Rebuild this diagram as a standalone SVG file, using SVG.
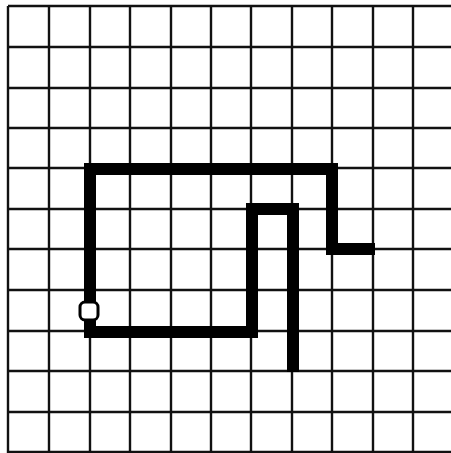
<svg xmlns="http://www.w3.org/2000/svg" width="451" height="453" viewBox="0 0 451 453">
<style>
.grid line{stroke:#111;stroke-width:2.4}
.path{fill:none;stroke:#000;stroke-width:12;stroke-linejoin:miter;stroke-linecap:square}
.start{fill:#fff;stroke:#000;stroke-width:3}
</style>
<rect width="451" height="453" fill="#fff"/>
<g id="grid" class="grid">
<line x1="8" y1="6" x2="8" y2="453"/>
<line x1="49" y1="6" x2="49" y2="453"/>
<line x1="90" y1="6" x2="90" y2="453"/>
<line x1="130" y1="6" x2="130" y2="453"/>
<line x1="171" y1="6" x2="171" y2="453"/>
<line x1="211" y1="6" x2="211" y2="453"/>
<line x1="251" y1="6" x2="251" y2="453"/>
<line x1="292" y1="6" x2="292" y2="453"/>
<line x1="332" y1="6" x2="332" y2="453"/>
<line x1="373" y1="6" x2="373" y2="453"/>
<line x1="413" y1="6" x2="413" y2="453"/>
<line x1="8" y1="6" x2="451" y2="6"/>
<line x1="8" y1="47" x2="451" y2="47"/>
<line x1="8" y1="88" x2="451" y2="88"/>
<line x1="8" y1="128" x2="451" y2="128"/>
<line x1="8" y1="168" x2="451" y2="168"/>
<line x1="8" y1="209" x2="451" y2="209"/>
<line x1="8" y1="249" x2="451" y2="249"/>
<line x1="8" y1="290" x2="451" y2="290"/>
<line x1="8" y1="331" x2="451" y2="331"/>
<line x1="8" y1="371" x2="451" y2="371"/>
<line x1="8" y1="412" x2="451" y2="412"/>
<line x1="8" y1="452" x2="451" y2="452"/>
</g>
<g id="connectors">
<path class="path" d="M90,311 L90,169 L332,169 L332,249 L369,249"/>
<path class="path" d="M90,311 L90,332 L252,332 L252,209 L293,209 L293,366" stroke-linecap="butt"/>
</g>
<g id="start">
<rect class="start" x="80" y="302" width="18" height="18" rx="5"/>
</g>
</svg>
